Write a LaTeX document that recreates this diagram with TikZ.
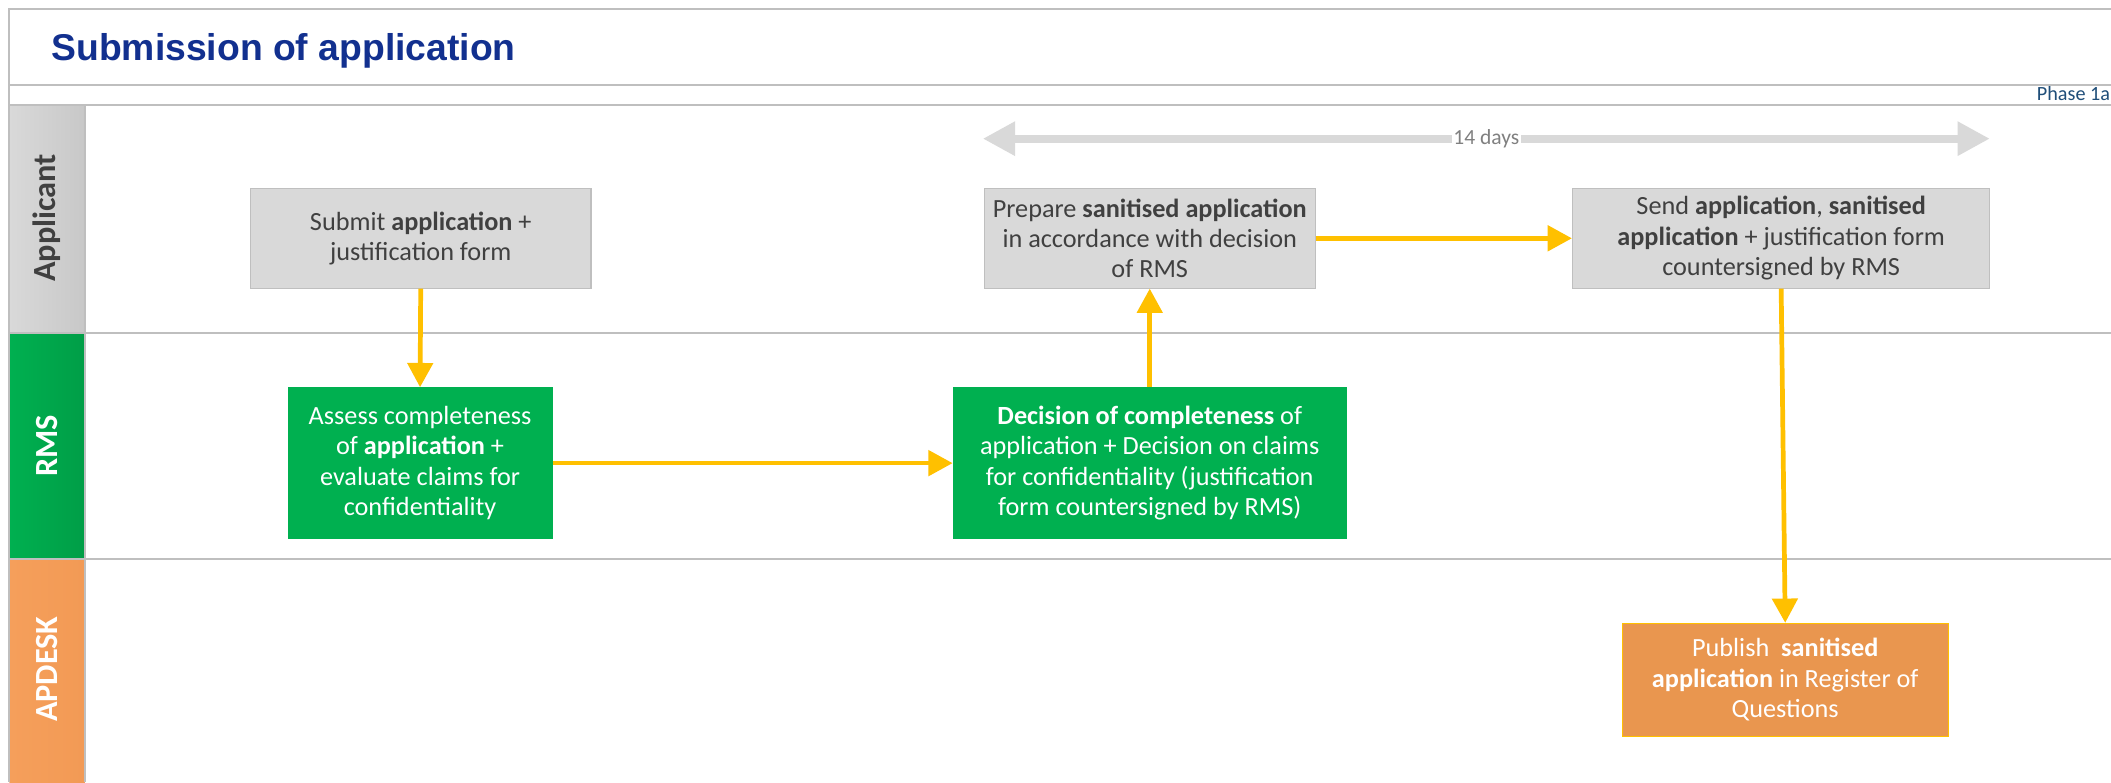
\documentclass[tikz,border=0pt]{standalone}
\usepackage{fontspec}
\setmainfont{Carlito}
\newfontfamily\arialfont{Liberation Sans}
\usetikzlibrary{arrows.meta}
\definecolor{framegray}{HTML}{BFBFBF}
\definecolor{boxgray}{HTML}{D9D9D9}
\definecolor{boxline}{HTML}{BFBFBF}
\definecolor{txtgray}{HTML}{404040}
\definecolor{rmsgreen}{HTML}{00B050}
\definecolor{rmsgreendark}{HTML}{009E47}
\definecolor{appgrayl}{HTML}{D9D9D9}
\definecolor{appgrayr}{HTML}{C8C8C8}
\definecolor{apdeskorange}{HTML}{F59F5B}
\definecolor{apdeskorangedark}{HTML}{F29A55}
\definecolor{pubfill}{HTML}{E9964F}
\definecolor{pubborder}{HTML}{FFC000}
\definecolor{flowyellow}{HTML}{FFC000}
\definecolor{titleblue}{HTML}{12308F}
\definecolor{phaseblue}{HTML}{1F4E79}
\definecolor{daysgray}{HTML}{808080}
\definecolor{daysarrowgray}{HTML}{D9D9D9}
\tikzset{
  frameline/.style={draw=framegray, line width=1.5pt},
  boxfont/.style={font=\fontsize{19.5}{22.6}\selectfont},
  graybox/.style={boxfont, draw=boxline, line width=0.8pt, fill=boxgray, text=txtgray, align=center, inner sep=0pt},
  greenbox/.style={boxfont, draw=rmsgreen, line width=0.8pt, fill=rmsgreen, text=white, align=center, inner sep=0pt},
  orangebox/.style={boxfont, draw=pubborder, line width=0.8pt, fill=pubfill, text=white, align=center, inner sep=0pt},
  lanelabel/.style={font=\fontsize{24}{28}\selectfont\bfseries, rotate=90, inner sep=0pt},
  flow/.style={draw=flowyellow, line width=3.5pt, -{Triangle[width=18.6pt,length=18pt]}},
  daysarrow/.style={draw=daysarrowgray, line width=6pt, {Triangle[width=24pt,length=24pt]}-{Triangle[width=24pt,length=24pt]}},
}
\begin{document}
\begin{tikzpicture}[x=1pt,y=-1pt]
\useasboundingbox (0,0) rectangle (1568,580.85);
\fill[white] (0,0) rectangle (1568,580.85);

% lane label cells
\shade[left color=appgrayl, right color=appgrayr] (7,78) rectangle (63,247);
\shade[left color=rmsgreen, right color=rmsgreendark] (7,247) rectangle (63,415);
\shade[left color=apdeskorange, right color=apdeskorangedark] (7,415) rectangle (63,581);

% frame lines
\draw[frameline] (1568,7) -- (7,7) -- (7,581);
\draw[frameline] (7,63) -- (1568,63);
\draw[frameline] (7,78) -- (1568,78);
\draw[frameline] (63,78) -- (63,581);
\draw[frameline] (7,247) -- (1568,247);
\draw[frameline] (7,415) -- (1568,415);

% title and phase
\node[anchor=base west, inner sep=0pt, font=\arialfont\bfseries\fontsize{27.7}{32}\selectfont, text=titleblue] (title) at (38,44.6) {Submission of application};
\node[anchor=base east, inner sep=0pt, font=\fontsize{15}{17}\selectfont, text=phaseblue] (phase) at (1567.5,74.5) {Phase 1a};

% lane labels
\node[lanelabel, text=txtgray] (lapp) at (35,162) {Applicant};
\node[lanelabel, text=white] (lrms) at (35,331) {RMS};
\node[lanelabel, text=white] (lapd) at (35,497) {APDESK};

% 14 days arrow
\coordinate (dl) at (730,103);
\coordinate (dr) at (1478,103);
\draw[daysarrow] (dl) -- node[fill=white, inner sep=1pt, text=daysgray, font=\fontsize{16}{19}\selectfont] (days) {14 days} (dr);

% process boxes
\node[graybox, minimum width=253pt, minimum height=74pt] (submit) at (312.5,177)
  {Submit \textbf{application} +\\ justification form};
\node[graybox, minimum width=246pt, minimum height=74pt] (prepare) at (854,177)
  {Prepare \textbf{sanitised application}\\ in accordance with decision\\ of RMS};
\node[graybox, minimum width=310pt, minimum height=74pt] (send) at (1323,177)
  {Send \textbf{application}, \textbf{sanitised}\\ \textbf{application} + justification form\\ countersigned by RMS};
\node[greenbox, minimum width=196pt, minimum height=112pt] (assess) at (312,344)
  {Assess completeness\\ of \textbf{application} +\\ evaluate claims for\\ confidentiality};
\node[greenbox, minimum width=292pt, minimum height=112pt] (decision) at (854,344)
  {\textbf{Decision of completeness} of\\ application + Decision on claims\\ for confidentiality (justification\\ form countersigned by RMS)};
\node[orangebox, minimum width=242pt, minimum height=84pt] (publish) at (1326,505)
  {Publish\ \ \textbf{sanitised}\\ \textbf{application} in Register of\\ Questions};

% flows
\draw[flow] (submit.south) -- (assess.north);
\draw[flow] (assess.east) -- (decision.west);
\draw[flow] (decision.north) -- (prepare.south);
\draw[flow] (prepare.east) -- (send.west);
\draw[flow] (send.south) -- (publish.north);
\end{tikzpicture}
\end{document}
